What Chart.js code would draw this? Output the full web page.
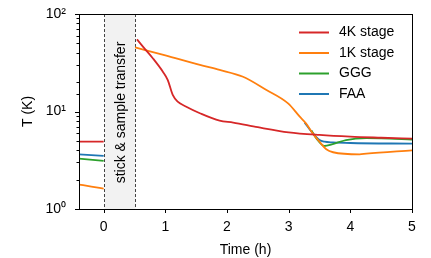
<!DOCTYPE html>
<html>
<head>
<meta charset="utf-8">
<script src="https://cdn.jsdelivr.net/npm/chart.js@4.4.1/dist/chart.umd.min.js"></script>
<style>
  html, body { margin: 0; padding: 0; background: #fff; }
</style>
</head>
<body>
<canvas id="tempChart" width="431" height="258"></canvas>
<script>
// values (time in h, temperature in K), null = gap during transfer
const stage4kTime = [-0.4, 0, 0.25, 0.54, 0.64, 0.8, 0.96, 1.04, 1.12, 1.2, 1.34, 1.56, 1.88, 2.1, 2.5, 3.0, 3.5, 4.0, 4.5, 5.0];
const stage4kTemp = [4.9, 4.9, null, 55, 46, 35, 25.6, 21, 14.8, 12.6, 11.2, 9.6, 8.05, 7.7, 6.9, 6.12, 5.75, 5.52, 5.38, 5.26];

const stage1kTime = [-0.4, -0.2, 0, 0.25, 0.51, 1.0, 1.56, 1.88, 2.26, 2.64, 2.99, 3.18, 3.28, 3.39, 3.5, 3.61, 3.72, 4.15, 4.26, 5.0];
const stage1kTemp = [1.78, 1.7, 1.62, null, 45.5, 37.6, 30, 26.7, 22.7, 16.6, 12.1, 8.85, 7.56, 5.97, 4.9, 4.1, 3.82, 3.64, 3.7, 4.0];

const gggTime = [-0.4, 0, 0.25, 3.37, 3.45, 3.58, 3.7, 3.93, 4.26, 4.5, 5.0];
const gggTemp = [3.28, 3.11, null, 6.4, 5.3, 4.43, 4.6, 5.1, 5.33, 5.3, 5.15];

const faaTime = [-0.4, 0, 0.25, 3.26, 3.39, 3.5, 3.58, 3.72, 4.0, 5.0];
const faaTemp = [3.64, 3.5, null, 7.68, 5.97, 5.1, 4.9, 4.82, 4.75, 4.68];

const seriesNames = ['4K stage', '1K stage', 'GGG', 'FAA'];
const seriesColors = ['#d62728', '#ff7f0e', '#2ca02c', '#1f77b4'];

const xTicks = [0, 1, 2, 3, 4, 5];
const yTickLabels = { 1: '10\u2070', 10: '10\u00b9', 100: '10\u00b2' };

const transferStart = 0;
const transferEnd = 0.5;
const transferLabel = 'stick & sample transfer';

const FONT = '"Liberation Sans", Arial, sans-serif';

function toPoints(times, temps) {
    return times.map((t, i) => ({ x: t, y: temps[i] }));
}

// shaded transfer window, frame, tick marks and legend
const decorations = {
    id: 'decorations',
    beforeDatasetsDraw(chart) {
        const { ctx, chartArea: a, scales: { x } } = chart;
        const x0 = Math.round(x.getPixelForValue(transferStart)) + 0.5;
        const x1 = Math.round(x.getPixelForValue(transferEnd)) + 0.5;
        ctx.save();
        ctx.fillStyle = '#f2f2f2';
        ctx.fillRect(x0, a.top, x1 - x0, a.bottom - a.top);
        ctx.strokeStyle = '#444';
        ctx.lineWidth = 1;
        ctx.setLineDash([3, 2]);
        [x0, x1].forEach(px => {
            ctx.beginPath();
            ctx.moveTo(px, a.top);
            ctx.lineTo(px, a.bottom);
            ctx.stroke();
        });
        ctx.setLineDash([]);
        ctx.translate((x0 + x1) / 2 + 1, (a.top + a.bottom) / 2 + 1);
        ctx.rotate(-Math.PI / 2);
        ctx.font = '14px ' + FONT;
        ctx.fillStyle = '#000';
        ctx.textAlign = 'center';
        ctx.textBaseline = 'middle';
        ctx.fillText(transferLabel, 0, 0);
        ctx.restore();
    },
    afterDraw(chart) {
        const { ctx, chartArea: a, scales: { x, y } } = chart;
        ctx.save();
        ctx.strokeStyle = '#000';
        ctx.lineWidth = 1;
        // frame
        ctx.strokeRect(Math.round(a.left) + 0.5, Math.round(a.top) + 0.5,
            Math.round(a.right - a.left), Math.round(a.bottom - a.top));
        // x ticks
        x.ticks.forEach(t => {
            const px = Math.round(x.getPixelForValue(t.value)) + 0.5;
            ctx.beginPath();
            ctx.moveTo(px, a.bottom);
            ctx.lineTo(px, a.bottom + 4);
            ctx.stroke();
        });
        // y ticks, minor ones shorter
        y.ticks.forEach(t => {
            const major = Math.abs(Math.log10(t.value) - Math.round(Math.log10(t.value))) < 1e-6;
            const py = Math.round(y.getPixelForValue(t.value)) + 0.5;
            ctx.beginPath();
            ctx.moveTo(a.left, py);
            ctx.lineTo(a.left - (major ? 4 : 2.5), py);
            ctx.stroke();
        });
        // legend
        ctx.font = '14px ' + FONT;
        ctx.textBaseline = 'middle';
        ctx.textAlign = 'left';
        chart.data.datasets.forEach((ds, i) => {
            const ly = 32.5 + i * 20.5;
            ctx.strokeStyle = ds.borderColor;
            ctx.lineWidth = 2;
            ctx.beginPath();
            ctx.moveTo(299, ly);
            ctx.lineTo(329, ly);
            ctx.stroke();
            ctx.fillStyle = '#000';
            ctx.fillText(ds.label, 339, ly);
        });
        ctx.restore();
    }
};

const ctx = document.getElementById('tempChart').getContext('2d');
new Chart(ctx, {
    type: 'line',
    data: {
        datasets: [
            [stage4kTime, stage4kTemp],
            [stage1kTime, stage1kTemp],
            [gggTime, gggTemp],
            [faaTime, faaTemp]
        ].map((s, i) => ({
            label: seriesNames[i],
            data: toPoints(s[0], s[1]),
            borderColor: seriesColors[i],
            backgroundColor: seriesColors[i],
            borderWidth: 1.8,
            pointRadius: 0,
            cubicInterpolationMode: 'monotone',
            spanGaps: false,
            fill: false
        }))
    },
    options: {
        responsive: false,
        animation: false,
        events: [],
        layout: { padding: { top: 14, right: 19, left: 0, bottom: 0 } },
        plugins: {
            legend: { display: false },
            tooltip: { enabled: false }
        },
        scales: {
            x: {
                type: 'linear',
                min: -0.4,
                max: 5,
                afterBuildTicks: scale => { scale.ticks = xTicks.map(v => ({ value: v })); },
                afterFit: scale => { scale.height = 49; },
                grid: { display: false },
                border: { display: false },
                ticks: { color: '#000', padding: 2, font: { size: 14, family: FONT } },
                title: { display: true, text: 'Time (h)', color: '#000', padding: { top: 0, bottom: -1 }, font: { size: 14, family: FONT } }
            },
            y: {
                type: 'logarithmic',
                min: 1,
                max: 100,
                afterFit: scale => { scale.width = 79; },
                grid: { display: false },
                border: { display: false },
                ticks: {
                    color: '#000',
                    padding: 5,
                    autoSkip: false,
                    font: { size: 14, family: FONT },
                    callback: v => yTickLabels[v] || ''
                },
                title: { display: true, text: 'T (K)', color: '#000', padding: { top: 20, bottom: 0 }, font: { size: 14, family: FONT } }
            }
        }
    },
    plugins: [decorations]
});
</script>
</body>
</html>
